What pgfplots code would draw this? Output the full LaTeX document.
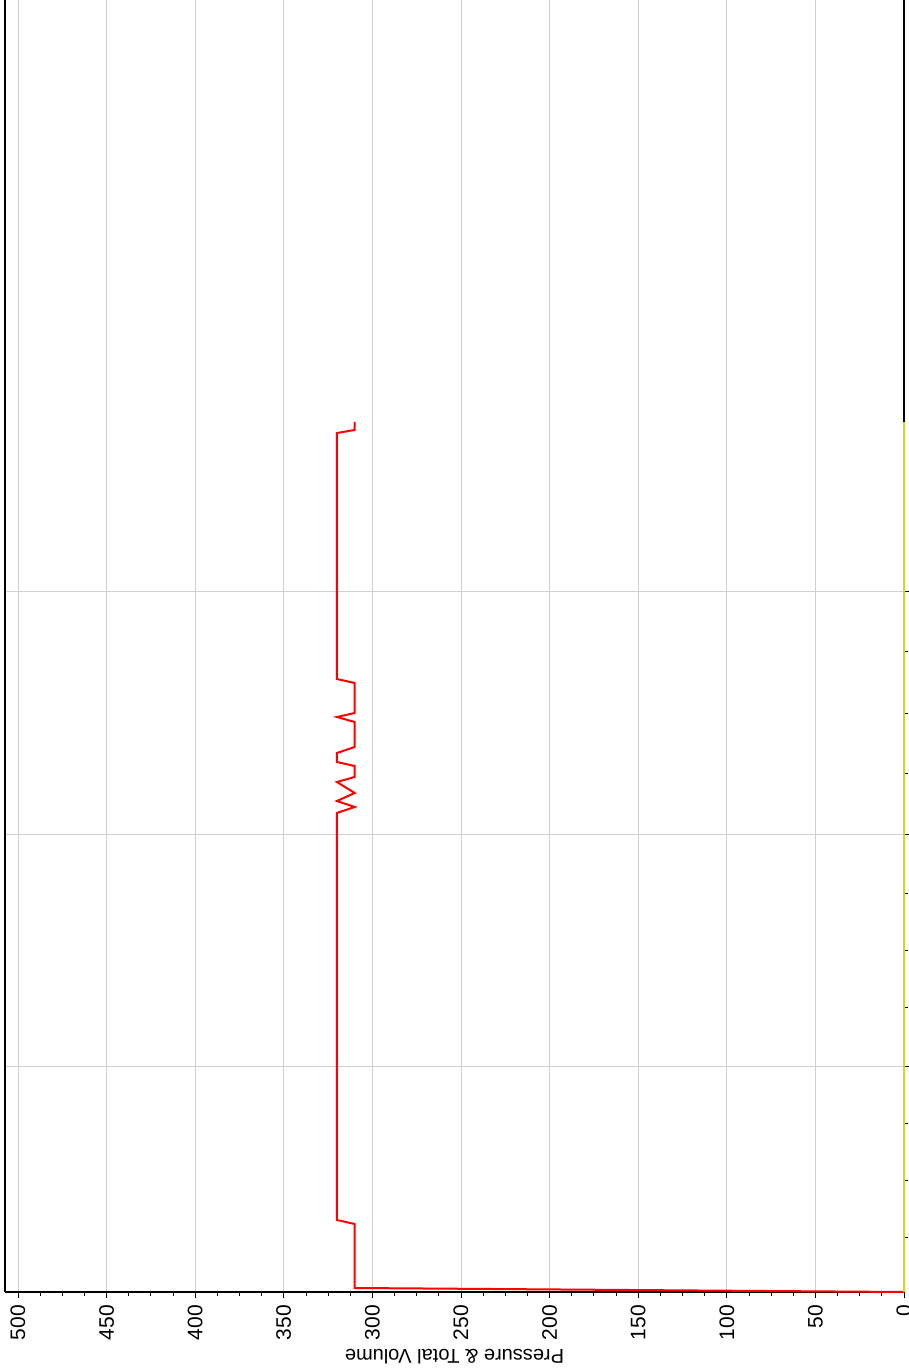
\documentclass[border=0pt]{standalone}
\usepackage{pgfplots}
\pgfplotsset{compat=1.18}
\usepackage{fontspec}
\setmainfont{Liberation Sans}
\begin{document}
\begin{tikzpicture}
\begin{axis}[
  set layers,
  clip=false,
  scale only axis,
  width=449.5pt, height=646pt,
  at={(0pt,0pt)}, anchor=south west,
  x dir=reverse,
  xmin=0, xmax=507.3,
  ymin=0, ymax=1292,
  axis x line*=bottom,
  axis y line*=box,
  axis line style={black, line width=0.8pt},
  xtick={0,50,...,500},
  minor x tick num=3,
  ytick={226,458,701},
  yticklabels={},
  minor ytick={55,112,169,285,342,399,519,579,641},
  ytick pos=right,
  tick align=outside,
  major tick length=3pt,
  minor tick length=2pt,
  every tick/.style={black, line width=0.4pt},
  grid=major,
  major grid style={gray!38, line width=0.4pt},
  /pgf/number format/assume math mode=true,
  xticklabel style={rotate=90, anchor=east, font=\fontsize{10.5}{12}\selectfont},
  xlabel={Pressure \& Total Volume},
  xlabel style={at={(axis description cs:0.5,0)}, yshift=-32.5pt, anchor=center, rotate=180, font=\fontsize{10}{12}\selectfont},
]
\addplot[red, line width=1pt, on layer=axis foreground] coordinates {
  (0,0) (310,4) (310,68) (320,72) (320,479)
  (310,485) (320,491) (310,499) (320,510) (310,515) (310,526)
  (320,530) (320,539) (310,545) (310,570) (320,575) (310,579)
  (310,609) (320,613) (320,859) (310,862) (310,870)
};
\addplot[yellow!85!black, line width=1pt, on layer=axis foreground] coordinates {(0,0) (0,870)};
\end{axis}
\pgfresetboundingbox
\path[use as bounding box] (-2.5pt,-39.5pt) rectangle (452pt,646pt);
\end{tikzpicture}
\end{document}
